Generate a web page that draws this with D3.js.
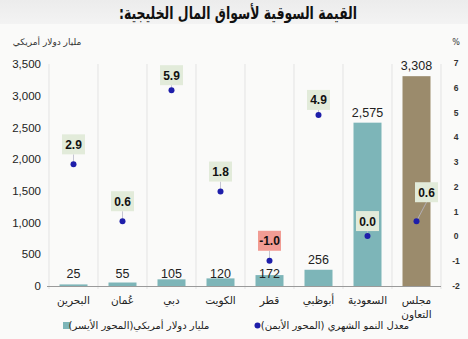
<!DOCTYPE html>
<html><head><meta charset="utf-8">
<script src="https://cdn.jsdelivr.net/npm/d3@7"></script>
<style>
html,body{margin:0;padding:0;background:#fafaf9;}
svg{display:block;font-family:"DejaVu Sans","Liberation Sans",Arial,sans-serif;}
</style></head><body>
<script>
const categories = ["البحرين","عُمان","دبي","الكويت","قطر","أبوظبي","السعودية","مجلس التعاون"];
const marketValues = [25, 55, 105, 120, 172, 256, 2575, 3308];
const growthRates = [2.9, 0.6, 5.9, 1.8, -1.0, 4.9, 0.0, 0.6];
const leftTicks = [0, 500, 1000, 1500, 2000, 2500, 3000, 3500];
const rightTicks = [-2, -1, 0, 1, 2, 3, 4, 5, 6, 7];
const titleText = "القيمة السوقية لأسواق المال الخليجية:";
const leftAxisTitle = "مليار دولار أمريكي";
const rightAxisTitle = "%";
const legendBars = "مليار دولار أمريكي(المحور الأيسر)";
const legendDots = "معدل النمو الشهري (المحور الأيمن)";

const W = 468, H = 339;
const svg = d3.select("body").append("svg").attr("width", W).attr("height", H);

// header band
const grad = svg.append("defs").append("linearGradient").attr("id","hg").attr("x1",0).attr("y1",0).attr("x2",0).attr("y2",1);
grad.append("stop").attr("offset","0%").attr("stop-color","#ececec");
grad.append("stop").attr("offset","100%").attr("stop-color","#f3f3f3");
svg.append("rect").attr("width",W).attr("height",H).attr("fill","#fafaf9");
svg.append("rect").attr("width",W).attr("height",24).attr("fill","url(#hg)");

svg.append("text").attr("x",238).attr("y",19).attr("text-anchor","middle")
  .attr("direction","rtl").attr("font-size",17).attr("font-weight","bold").attr("fill","#111")
  .attr("textLength", 238).attr("lengthAdjust", "spacingAndGlyphs")
  .text(titleText);

const plotL = 49, plotR = 441, plotT = 64, plotB = 286;
const x = d3.scaleBand().domain(categories).range([plotL, plotR]).paddingInner(0).paddingOuter(0);
const yL = d3.scaleLinear().domain([0, 3500]).range([plotB, plotT]);
const yR = d3.scaleLinear().domain([-2, 7]).range([plotB - 0.5, plotT - 1]);

// vertical gridlines
const bounds = categories.map(c => x(c)).concat([plotR]);
svg.append("g").selectAll("line").data(bounds).join("line")
  .attr("x1", d => d).attr("x2", d => d).attr("y1", plotT).attr("y2", plotB + 3)
  .attr("stroke", "#e3e3e3").attr("stroke-width", 1);

// left axis
const axL = d3.axisLeft(yL).tickValues(leftTicks).tickFormat(d3.format(",")).tickSize(0).tickPadding(8);
const gL = svg.append("g").attr("transform", `translate(${plotL},0)`).call(axL);
gL.select(".domain").remove();
gL.selectAll("text").attr("font-family","'Liberation Sans',Arial,sans-serif").attr("font-size",11.5).attr("fill","#222");

// right axis
const axR = d3.axisRight(yR).tickValues(rightTicks).tickFormat(d => String(d)).tickSize(0).tickPadding(12);
const gR = svg.append("g").attr("transform", `translate(${plotR},0)`).call(axR);
gR.select(".domain").remove();
gR.selectAll("text").attr("font-family","'Liberation Sans',Arial,sans-serif").attr("font-size",8.5).attr("font-weight","bold").attr("fill","#333").attr("text-anchor","middle").attr("dx", 3);

// axis titles
svg.append("text").attr("x",47).attr("y",45).attr("text-anchor","middle").attr("direction","rtl")
  .attr("font-size",9).attr("fill","#333").text(leftAxisTitle);
svg.append("text").attr("x",456).attr("y",45).attr("text-anchor","middle")
  .attr("font-size",8).attr("fill","#333").text(rightAxisTitle);

// bars
const bw = 28;
svg.append("g").selectAll("rect").data(categories).join("rect")
  .attr("x", c => x(c) + x.bandwidth()/2 - bw/2)
  .attr("width", bw)
  .attr("y", (c,i) => yL(marketValues[i]))
  .attr("height", (c,i) => plotB - yL(marketValues[i]))
  .attr("fill", (c,i) => i === categories.length - 1 ? "#9b8b6c" : "#7db5b8");

// baseline
svg.append("line").attr("x1", plotL - 2).attr("x2", plotR).attr("y1", plotB + 0.5).attr("y2", plotB + 0.5)
  .attr("stroke", "#9a9a9a").attr("stroke-width", 1);

// bar value labels
svg.append("g").selectAll("text").data(categories).join("text")
  .attr("x", c => x(c) + x.bandwidth()/2)
  .attr("y", (c,i) => yL(marketValues[i]) < 271 ? yL(marketValues[i]) - 6 : 277.5)
  .attr("text-anchor","middle").attr("font-family","'Liberation Sans',Arial,sans-serif")
  .attr("font-size",12.5).attr("fill","#222")
  .text((c,i) => d3.format(",")(marketValues[i]));

// dot labels
const boxW = 23, boxH = 20;
const lab = svg.append("g");
categories.forEach((c, i) => {
  const cx = x(c) + x.bandwidth()/2;
  const cy = yR(growthRates[i]);
  const last = i === categories.length - 1;
  const bx = cx + (last ? 10 : 0);
  const by = cy - (last ? 29 : (growthRates[i] === 0 || growthRates[i] > 4.5 ? 15 : 20));
  lab.append("line").attr("x1", cx).attr("y1", cy).attr("x2", bx).attr("y2", by + boxH/2)
    .attr("stroke", "#b8b8c8").attr("stroke-width", 0.8);
  lab.append("rect").attr("x", bx - boxW/2).attr("y", by - boxH/2).attr("width", boxW).attr("height", boxH)
    .attr("fill", growthRates[i] < 0 ? "#f19c94" : "#e2ebda");
  lab.append("text").attr("x", bx).attr("y", by + 4.5).attr("text-anchor","middle")
    .attr("font-family","'Liberation Sans',Arial,sans-serif").attr("font-size",12).attr("font-weight","bold")
    .attr("fill","#111").text(d3.format(".1f")(growthRates[i]).replace("\u2212", "-"));
});

// dots
svg.append("g").selectAll("circle").data(categories).join("circle")
  .attr("cx", c => x(c) + x.bandwidth()/2)
  .attr("cy", (c,i) => yR(growthRates[i]))
  .attr("r", 3).attr("fill", "#1e1eaa");

// category labels
const cl = svg.append("g");
categories.forEach(c => {
  const words = c === "مجلس التعاون" ? ["مجلس", "التعاون"] : [c];
  words.forEach((w, k) => {
    cl.append("text").attr("x", x(c) + x.bandwidth()/2).attr("y", 304 + k * 13.5)
      .attr("text-anchor","middle").attr("direction","rtl").attr("font-size",10.5).attr("fill","#222").text(w);
  });
});

// legend
svg.append("rect").attr("x", 63).attr("y", 322).attr("width", 7).attr("height", 7).attr("fill", "#7db5b8");
svg.append("text").attr("x", 139).attr("y", 329).attr("text-anchor","middle").attr("direction","rtl")
  .attr("font-size",10).attr("fill","#222").text(legendBars);
svg.append("circle").attr("cx", 257.5).attr("cy", 325.5).attr("r", 3).attr("fill", "#1e1eaa");
svg.append("text").attr("x", 335).attr("y", 329).attr("text-anchor","middle").attr("direction","rtl")
  .attr("font-size",10).attr("fill","#222").text(legendDots);
</script>
</body></html>
